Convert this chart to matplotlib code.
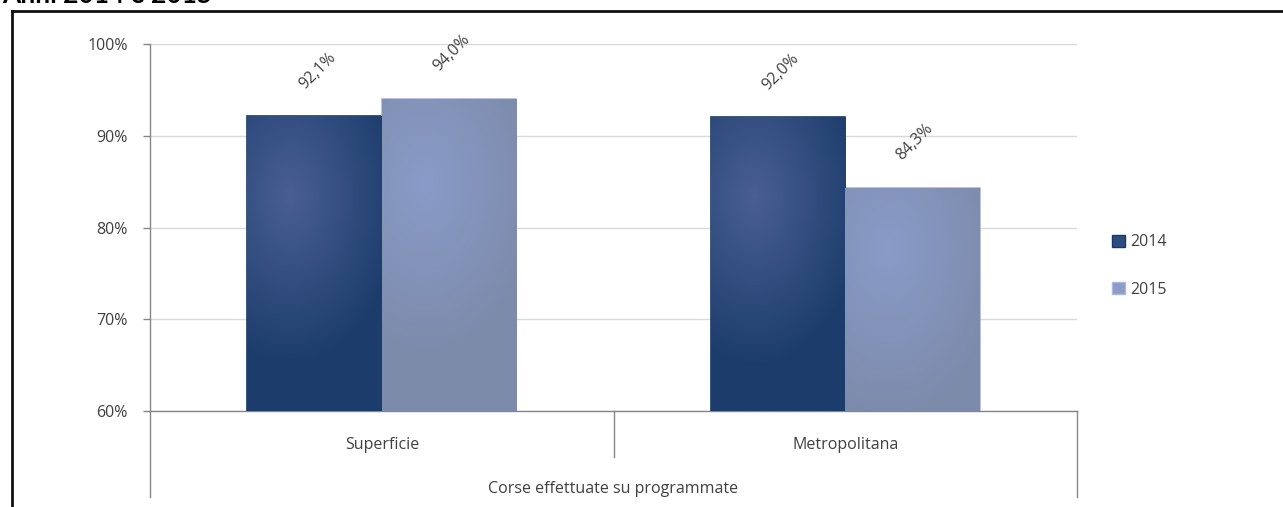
import numpy as np
import matplotlib
matplotlib.use("Agg")
import matplotlib.pyplot as plt
from matplotlib.patches import Patch
from matplotlib.lines import Line2D
from matplotlib.colors import LinearSegmentedColormap

# Data
categories = ["Superficie", "Metropolitana"]
group_label = "Corse effettuate su programmate"
years = ["2014", "2015"]
values_2014 = [92.1, 92.0]
values_2015 = [94.0, 84.3]
ytick_values = [60, 70, 80, 90, 100]
ytick_labels = ["60%", "70%", "80%", "90%", "100%"]
title = "Anni 2014 e 2015"

plt.rcParams["font.family"] = ["Open Sans", "DejaVu Sans"]
TXT = "#404040"
FS = 11.5

fig = plt.figure(figsize=(12.83, 5.07), dpi=100)
ax = fig.add_axes([150 / 1283, 1 - 411 / 507, 927 / 1283, 367 / 507])

x = np.arange(len(categories))
width = 0.29
series = [
    (values_2014, -width / 2, "#1C3D6C", "#4A5F94", "#1A3866"),
    (values_2015, width / 2, "#7D8BAB", "#899BC8", "#A9B8DC"),
]

ny, nx = 160, 80
gy, gx = np.mgrid[0:1:ny * 1j, 0:1:nx * 1j]

for vals, off, edge_c, mid_c, rim_c in series:
    bars = ax.bar(x + off, np.array(vals) - 60, width=width, bottom=60,
                  color=edge_c, edgecolor=rim_c, linewidth=1.2, zorder=3)
    cmap = LinearSegmentedColormap.from_list("g", [mid_c, edge_c])
    for b in bars:
        x0, y0 = b.get_x(), b.get_y()
        w, h = b.get_width(), b.get_height()
        # soft radial shading, brightest toward the upper left
        hpx = h / 40 * 367
        wpx = 133.0
        r = np.sqrt(((gx - 0.32) * wpx / 110) ** 2 + ((gy - 0.27) * hpx / 170) ** 2)
        img = np.clip(r, 0, 1)
        im = ax.imshow(img, cmap=cmap, vmin=0, vmax=1, origin="upper",
                       extent=(x0, x0 + w, y0, y0 + h), aspect="auto",
                       interpolation="bilinear", zorder=3.5)
        im.set_clip_path(b)
    for xi, v in zip(x + off, vals):
        ax.annotate(f"{v:.1f}%".replace(".", ","), (xi, v),
                    xytext=(2, 33), textcoords="offset points",
                    rotation=45, ha="center", va="center",
                    fontsize=FS, color=TXT, zorder=5)

ax.set_xlim(-0.5, len(categories) - 0.5)
ax.set_ylim(60, 100)
ax.set_yticks(ytick_values)
ax.set_yticklabels(ytick_labels)
ax.tick_params(axis="y", length=5, width=1, color="#868686", pad=11,
               labelsize=FS, labelcolor=TXT)
ax.set_xticks([])
ax.yaxis.grid(True, color="#D9D9D9", linewidth=1)
ax.set_axisbelow(True)
for s in ["top", "right"]:
    ax.spines[s].set_visible(False)
for s in ["left", "bottom"]:
    ax.spines[s].set_color("#868686")
    ax.spines[s].set_linewidth(1)

# Hierarchical category axis
trans = ax.get_xaxis_transform()
lc = "#868686"
ax.plot([-0.5, -0.5], [0, -0.235], transform=trans, color=lc, lw=1, clip_on=False)
ax.plot([0.5, 0.5], [0, -0.125], transform=trans, color=lc, lw=1, clip_on=False)
ax.plot([1.5, 1.5], [0, -0.235], transform=trans, color=lc, lw=1, clip_on=False)
for xi, c in zip(x, categories):
    ax.text(xi, -0.092, c, transform=trans, ha="center", va="center",
            fontsize=FS, color=TXT)
ax.text(0.5, -0.213, group_label, transform=trans, ha="center", va="center",
        fontsize=FS, color=TXT)

# Legend
handles = [Patch(facecolor="#2E4C80", edgecolor="#1A3866", label=years[0]),
           Patch(facecolor="#8C9CC6", edgecolor="#A9B8DC", label=years[1])]
ax.legend(handles=handles, loc="center left", bbox_to_anchor=(1.022, 0.395),
          frameon=False, fontsize=FS, handlelength=0.85, handleheight=0.85,
          handletextpad=0.3, labelspacing=1.95, labelcolor=TXT)

# Outer frame and title
fig.add_artist(Line2D([12 / 1283, 1], [1 - 11 / 507] * 2, color="#111111", lw=2))
fig.add_artist(Line2D([12 / 1283] * 2, [0, 1 - 11 / 507], color="#111111", lw=2))
fig.text(0.002, 1 - 3 / 507, title, fontsize=19, fontweight="bold",
         ha="left", va="baseline", color="#000000", family=["Lato", "DejaVu Sans"])

fig.savefig("out.png", dpi=100)
